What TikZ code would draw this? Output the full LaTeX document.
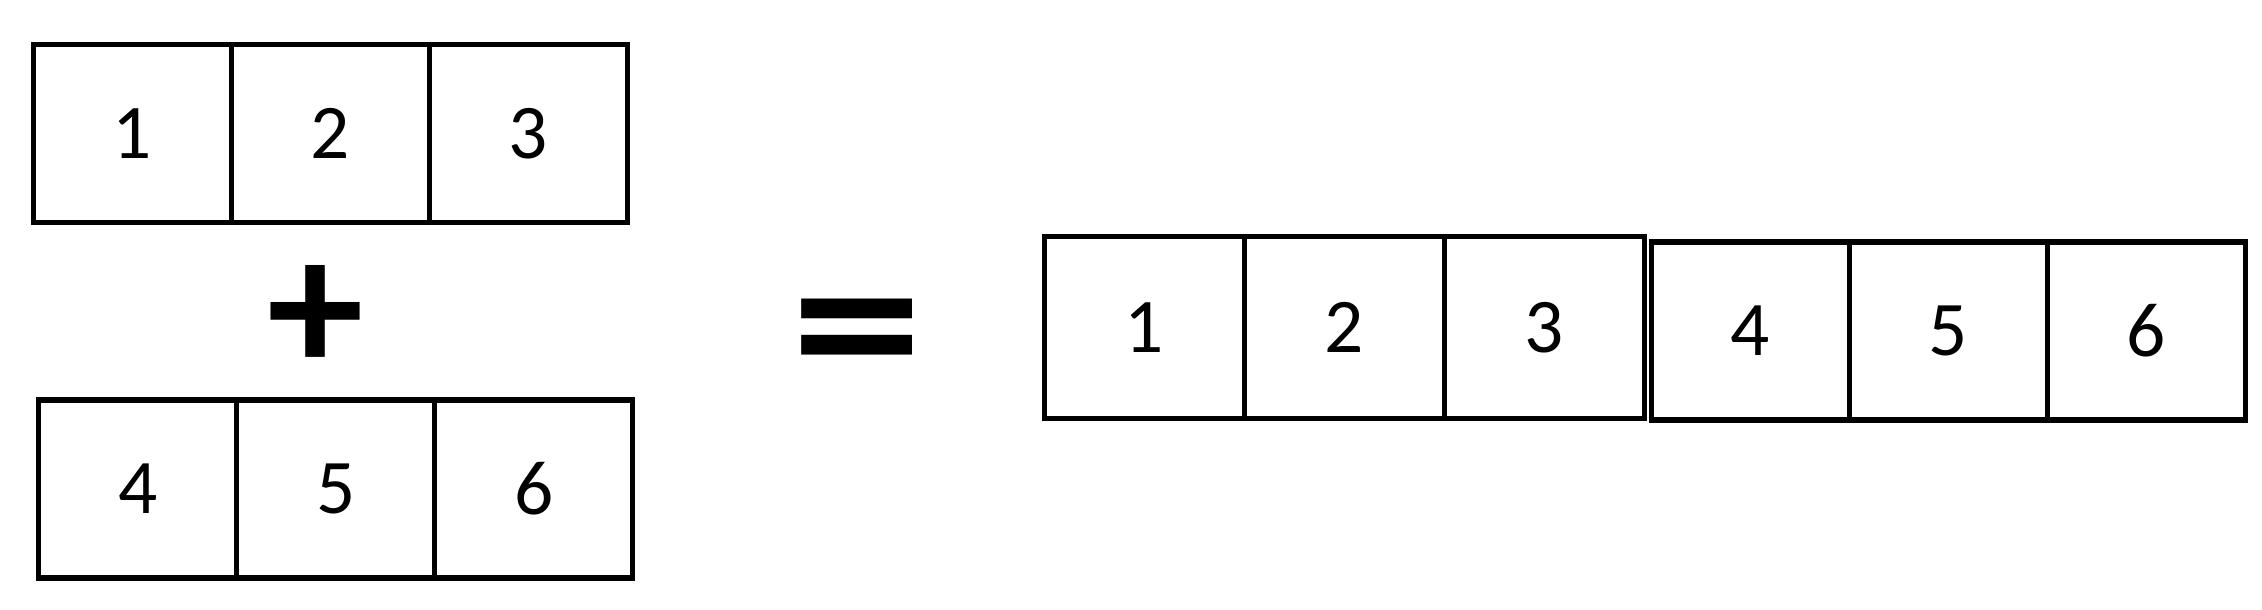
\documentclass[tikz,border=0pt]{standalone}
\usepackage{fontspec}
\usepackage{graphicx}
\setmainfont{Carlito}
\usetikzlibrary{positioning}

\tikzset{
  cell/.style={draw,line width=1.5pt,minimum width=1.98cm,minimum height=1.78cm,
    inner sep=0pt,outer sep=0pt,font=\fontsize{22}{26}\selectfont},
  opsign/.style={inner sep=0pt,font=\fontsize{#1}{#1}\selectfont\bfseries}
}

\begin{document}
\begin{tikzpicture}
\useasboundingbox (0,0) rectangle (22.62,6.10);

\node[cell] (a1) at (1.322,4.766) {1};
\node[cell,right=0pt of a1] (a2) {2};
\node[cell,right=0pt of a2] (a3) {3};

\node[opsign=55] (plus) at (3.16,2.91) {+};

\node[cell] (b1) at (1.378,1.21) {4};
\node[cell,right=0pt of b1] (b2) {5};
\node[cell,right=0pt of b2] (b3) {6};

\node[opsign=75] (eq) at (8.57,2.63) {\scalebox{1}[0.82]{=}};

\node[cell,minimum width=2cm,minimum height=1.82cm] (c1) at (11.444,2.825) {1};
\node[cell,minimum width=2cm,minimum height=1.82cm,right=0pt of c1] (c2) {2};
\node[cell,minimum width=2cm,minimum height=1.82cm,right=0pt of c2] (c3) {3};

\node[cell,right=0.07cm of c3,yshift=-0.036cm] (d1) {4};
\node[cell,right=0pt of d1] (d2) {5};
\node[cell,right=0pt of d2] (d3) {6};

\end{tikzpicture}
\end{document}
